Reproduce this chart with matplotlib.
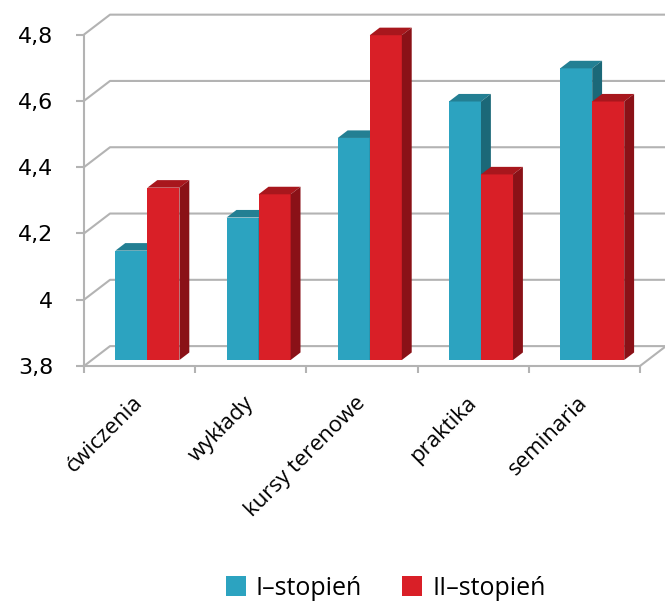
import matplotlib
matplotlib.use("Agg")
import matplotlib.pyplot as plt
from matplotlib.patches import Polygon, Patch
from matplotlib.transforms import ScaledTranslation

categories = ["ćwiczenia", "wykłady", "kursy terenowe", "praktika", "seminaria"]
stopien1 = [4.13, 4.23, 4.47, 4.58, 4.68]
stopien2 = [4.32, 4.30, 4.78, 4.36, 4.58]
series_names = ["I–stopień", "II–stopień"]
yticks = [3.8, 4.0, 4.2, 4.4, 4.6, 4.8]
ytick_labels = ["3,8", "4", "4,2", "4,4", "4,6", "4,8"]

# oblique 3d look: depth offset of the back wall, in data units
DX, DY = 0.234, 0.060
F0, F1 = 0.30, 0.68          # bar front / back as a fraction of depth
BW = 0.288                   # width of one bar
BASE = 3.8
GRID = "#b3b3b3"

colors = {
    0: ("#2ca3c0", "#237f93", "#1b6878"),   # front, top, side
    1: ("#d91f27", "#a8171d", "#8a1117"),
}

fig = plt.figure(figsize=(6.65, 6.02), dpi=100)
ax = fig.add_axes([84 / 665, 236 / 602, 581 / 665, 353 / 602])
ax.set_xlim(-0.5, 4.725)
ax.set_ylim(BASE, 4.865)

# back wall gridlines, left wall diagonals
for v in yticks:
    ax.plot([-0.5, -0.5 + DX, 4.5 + DX], [v, v + DY, v + DY],
            color=GRID, lw=1.5, zorder=1, clip_on=False, solid_capstyle="butt")
# floor right edge
ax.plot([4.5, 4.5 + DX], [BASE, BASE + DY], color=GRID, lw=1.5, zorder=1, clip_on=False)


def draw_bar(x0, v, k):
    front, top, side = colors[k]
    ox0, oy0 = F0 * DX, F0 * DY
    ox1, oy1 = F1 * DX, F1 * DY
    xl, xr = x0 + ox0, x0 + BW + ox0
    yb, yt = BASE + oy0, v + oy0
    d = (ox1 - ox0, oy1 - oy0)
    ax.add_patch(Polygon([(xl, yb), (xr, yb), (xr, yt), (xl, yt)],
                         closed=True, fc=front, ec="none", zorder=3))
    ax.add_patch(Polygon([(xl, yt), (xr, yt), (xr + d[0], yt + d[1]), (xl + d[0], yt + d[1])],
                         closed=True, fc=top, ec="none", zorder=3))
    ax.add_patch(Polygon([(xr, yb), (xr + d[0], yb + d[1]), (xr + d[0], yt + d[1]), (xr, yt)],
                         closed=True, fc=side, ec="none", zorder=3))


for i in range(len(categories)):
    draw_bar(i - BW, stopien1[i], 0)
    draw_bar(i, stopien2[i], 1)

for s in ["top", "right"]:
    ax.spines[s].set_visible(False)
ax.spines["left"].set_bounds(3.8, 4.8)
ax.spines["bottom"].set_bounds(-0.5, 4.5)
for s in ["left", "bottom"]:
    ax.spines[s].set_color(GRID)
    ax.spines[s].set_linewidth(1.5)

ax.set_yticks(yticks, ytick_labels)
ax.tick_params(axis="y", direction="out", length=6, width=1.5, color=GRID,
               pad=16, labelsize=16, labelcolor="#000000")

ax.set_xticks(range(len(categories)))
ax.set_xticklabels(categories, rotation=45, ha="right", va="top",
                   rotation_mode="anchor", fontsize=16, family="Open Sans")
ax.set_xticks([i - 0.5 for i in range(len(categories) + 1)], minor=True)
ax.tick_params(axis="x", which="major", length=0, pad=19)
ax.tick_params(axis="x", which="minor", direction="out", length=5, width=1.5, color=GRID)
for lab in ax.get_xticklabels():
    lab.set_transform(lab.get_transform() + ScaledTranslation(-5 / 72, 0, fig.dpi_scale_trans))

handles = [Patch(fc=colors[0][0]), Patch(fc=colors[1][0])]
fig.legend(handles, series_names, loc="center", bbox_to_anchor=(0.58, 0.023),
           ncol=2, frameon=False, prop={"family": "Open Sans", "size": 18},
           handlelength=0.8, handleheight=0.8, handletextpad=0.4, columnspacing=1.6)

fig.savefig("out.png", dpi=100)
